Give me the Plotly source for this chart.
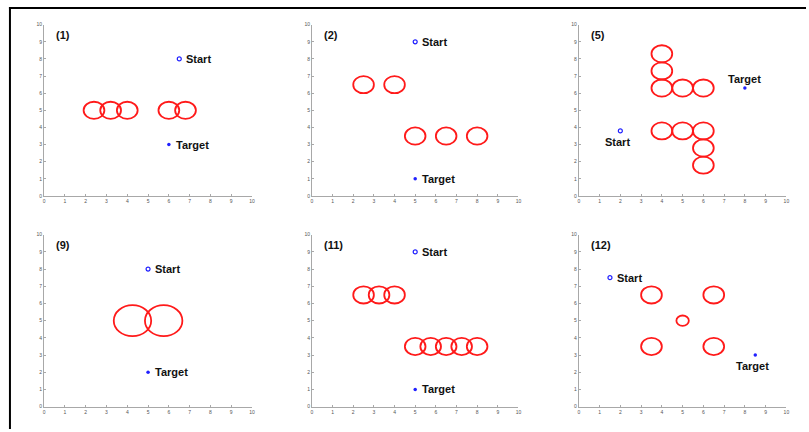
import plotly.graph_objects as go

W, H = 809, 432

# Scenario titles
panel_titles = ["(1)", "(2)", "(5)", "(9)", "(11)", "(12)"]

# Obstacle circles per scenario: centres and radii
obstacle_x = [
    [2.4, 3.2, 4.0, 6.0, 6.8],
    [2.5, 4.0, 5.0, 6.5, 8.0],
    [4.0, 4.0, 4.0, 5.0, 6.0, 4.0, 5.0, 6.0, 6.0, 6.0],
    [4.25, 5.75],
    [2.5, 3.25, 4.0, 5.0, 5.75, 6.5, 7.25, 8.0],
    [3.5, 6.5, 5.0, 3.5, 6.5],
]
obstacle_y = [
    [5.0, 5.0, 5.0, 5.0, 5.0],
    [6.5, 6.5, 3.5, 3.5, 3.5],
    [8.3, 7.3, 6.3, 6.3, 6.3, 3.8, 3.8, 3.8, 2.8, 1.8],
    [5.0, 5.0],
    [6.5, 6.5, 6.5, 3.5, 3.5, 3.5, 3.5, 3.5],
    [6.5, 6.5, 5.0, 3.5, 3.5],
]
obstacle_r = [
    [0.5, 0.5, 0.5, 0.5, 0.5],
    [0.5, 0.5, 0.5, 0.5, 0.5],
    [0.5] * 10,
    [0.9, 0.9],
    [0.5] * 8,
    [0.5, 0.5, 0.3, 0.5, 0.5],
]

# Start / target points
start_x = [6.5, 5.0, 2.0, 5.0, 5.0, 1.5]
start_y = [8.0, 9.0, 3.8, 8.0, 9.0, 7.5]
target_x = [6.0, 5.0, 8.0, 5.0, 5.0, 8.5]
target_y = [3.0, 1.0, 6.3, 2.0, 1.0, 3.0]

# Where each point's label sits relative to its marker
start_label_side = ["right", "right", "below", "right", "right", "right"]
target_label_side = ["right", "right", "above", "right", "right", "below"]

tick_vals = list(range(0, 11))
tick_text = [str(v) for v in tick_vals]

# Axes boxes in pixels (left, right, top, bottom)
col_px = [(43.3, 252.3), (312.5, 520.0), (580.7, 789.3)]
row_px = [(22.0, 195.7), (235.0, 409.3)]

FONT = "Liberation Sans, Arial, sans-serif"
BLUE = "#2020ff"
RED = "#ff1a1a"

fig = go.Figure()
layout = dict(
    width=W, height=H,
    margin=dict(l=0, r=0, t=0, b=0),
    paper_bgcolor="white", plot_bgcolor="white",
    showlegend=False,
    font=dict(family=FONT),
)
shapes = []
annotations = []


def label_offsets(side):
    if side == "right":
        return dict(xanchor="left", yanchor="middle", xshift=5, yshift=0)
    if side == "below":
        return dict(xanchor="center", yanchor="middle", xshift=-3, yshift=-11)
    return dict(xanchor="center", yanchor="middle", xshift=0, yshift=9)


for i in range(6):
    r, c = divmod(i, 3)
    n = "" if i == 0 else str(i + 1)
    xa, ya = "x" + n, "y" + n
    (xl, xr), (yt, yb) = col_px[c], row_px[r]
    axis_common = dict(
        range=[0, 10], tickmode="array", tickvals=tick_vals, ticktext=tick_text,
        showgrid=False, zeroline=False, showline=True, linecolor="#a8a8a8",
        linewidth=1, ticks="inside", ticklen=2, tickcolor="#a8a8a8",
        tickfont=dict(size=5, color="#555555", family=FONT), fixedrange=True,
    )
    layout["xaxis" + n] = dict(axis_common, domain=[xl / W, xr / W], anchor=ya)
    layout["yaxis" + n] = dict(axis_common, domain=[1 - yb / H, 1 - yt / H], anchor=xa)

    for cx, cy, rad in zip(obstacle_x[i], obstacle_y[i], obstacle_r[i]):
        shapes.append(dict(
            type="circle", xref=xa, yref=ya,
            x0=cx - rad, x1=cx + rad, y0=cy - rad, y1=cy + rad,
            line=dict(color=RED, width=1.8),
        ))

    fig.add_trace(go.Scatter(
        x=[start_x[i]], y=[start_y[i]], mode="markers", xaxis=xa, yaxis=ya,
        marker=dict(symbol="circle-open", size=4, color=BLUE, line=dict(width=1.2)),
        hoverinfo="skip",
    ))
    fig.add_trace(go.Scatter(
        x=[target_x[i]], y=[target_y[i]], mode="markers", xaxis=xa, yaxis=ya,
        marker=dict(symbol="circle", size=3.5, color=BLUE),
        hoverinfo="skip",
    ))

    bold = dict(family=FONT, size=11, color="#111111")
    annotations.append(dict(
        x=0.5, y=9.4, xref=xa, yref=ya, text="<b>%s</b>" % panel_titles[i],
        showarrow=False, xanchor="left", yanchor="middle", font=bold,
    ))
    annotations.append(dict(
        x=start_x[i], y=start_y[i], xref=xa, yref=ya, text="<b>Start</b>",
        showarrow=False, font=bold, **label_offsets(start_label_side[i]),
    ))
    annotations.append(dict(
        x=target_x[i], y=target_y[i], xref=xa, yref=ya, text="<b>Target</b>",
        showarrow=False, font=bold, **label_offsets(target_label_side[i]),
    ))

# Frame lines along the top and left edges of the page
shapes.append(dict(type="line", xref="paper", yref="paper",
                   x0=8 / W, x1=1, y0=1 - 5 / H, y1=1 - 5 / H,
                   line=dict(color="black", width=2)))
shapes.append(dict(type="line", xref="paper", yref="paper",
                   x0=9 / W, x1=9 / W, y0=0, y1=1 - 4 / H,
                   line=dict(color="black", width=2)))

layout["shapes"] = shapes
layout["annotations"] = annotations
fig.update_layout(**layout)
fig.write_html("out.html")
